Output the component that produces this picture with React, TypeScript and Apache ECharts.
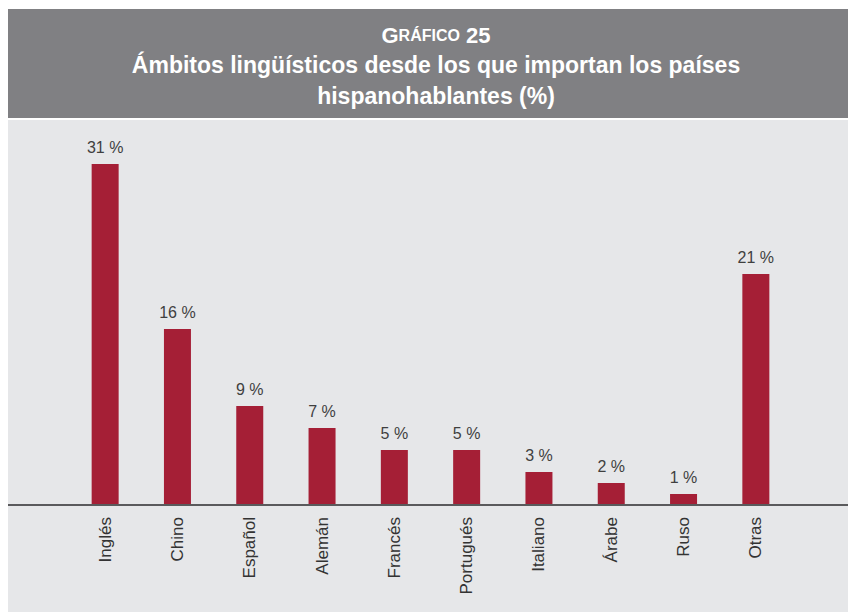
import React, { useEffect, useRef } from "react";
import * as echarts from "echarts";

const categories = ["Inglés", "Chino", "Español", "Alemán", "Francés", "Portugués", "Italiano", "Árabe", "Ruso", "Otras"];
const values = [31, 16, 9, 7, 5, 5, 3, 2, 1, 21];
const titleLine1 = "GRÁFICO 25";
const titleLine2 = "Ámbitos lingüísticos desde los que importan los países";
const titleLine3 = "hispanohablantes (%)";

const W = 848;
const H = 604;
const FONT = "'Liberation Sans', Arial, Helvetica, sans-serif";

export default function App() {
  const ref = useRef<HTMLDivElement>(null);
  useEffect(() => {
    if (!ref.current) return;
    const chart = echarts.init(ref.current, undefined, { renderer: "svg" });
    chart.setOption({
      animation: false,
      backgroundColor: "#ffffff",
      textStyle: { fontFamily: FONT },
      grid: { left: 61, right: 64, top: 57, bottom: 107, containLabel: false },
      xAxis: {
        type: "category",
        data: categories,
        axisLine: { show: false },
        axisTick: { show: false },
        axisLabel: {
          rotate: 90,
          margin: 12,
          fontSize: 17,
          color: "#333333",
          fontFamily: FONT,
          interval: 0,
        },
        z: 10,
      },
      yAxis: {
        type: "value",
        min: 0,
        max: 40,
        show: false,
        splitLine: { show: false },
      },
      graphic: [
        { type: "rect", z: -10, shape: { x: 0, y: 1, width: W, height: 109 }, style: { fill: "#808083" } },
        { type: "rect", z: -10, shape: { x: 0, y: 112, width: W, height: H - 112 }, style: { fill: "#e6e7e9" } },
        {
          type: "text",
          z: 5,
          x: 428,
          y: 27,
          style: {
            text: "{a|G}{b|" + titleLine1.slice(1, 7) + "}{a|" + titleLine1.slice(7) + "}",
            align: "center",
            verticalAlign: "middle",
            fill: "#ffffff",
            rich: {
              a: { fontSize: 22, fill: "#ffffff", fontFamily: FONT, fontWeight: "bold" },
              b: { fontSize: 16, fill: "#ffffff", fontFamily: FONT, fontWeight: "bold" },
            },
          },
        },
        {
          type: "text",
          z: 5,
          x: 428,
          y: 57,
          style: { text: titleLine2, align: "center", verticalAlign: "middle", fill: "#ffffff", fontSize: 23, fontWeight: "bold", fontFamily: FONT },
        },
        {
          type: "text",
          z: 5,
          x: 428,
          y: 88,
          style: { text: titleLine3, align: "center", verticalAlign: "middle", fill: "#ffffff", fontSize: 23, fontWeight: "bold", fontFamily: FONT },
        },
        {
          type: "line",
          z: 50,
          shape: { x1: -1, y1: 497, x2: W, y2: 497 },
          style: { stroke: "#5a5a5c", lineWidth: 2 },
        },
      ],
      series: [
        {
          type: "bar",
          data: values,
          barWidth: 27,
          itemStyle: { color: "#a51f36" },
          label: {
            show: true,
            position: "top",
            distance: 9,
            formatter: (p: any) => p.value + " %",
            fontSize: 16,
            color: "#3f3f3f",
            fontFamily: FONT,
          },
        },
      ],
    });
    return () => chart.dispose();
  }, []);
  return <div ref={ref} style={{ width: W, height: H }} />;
}
